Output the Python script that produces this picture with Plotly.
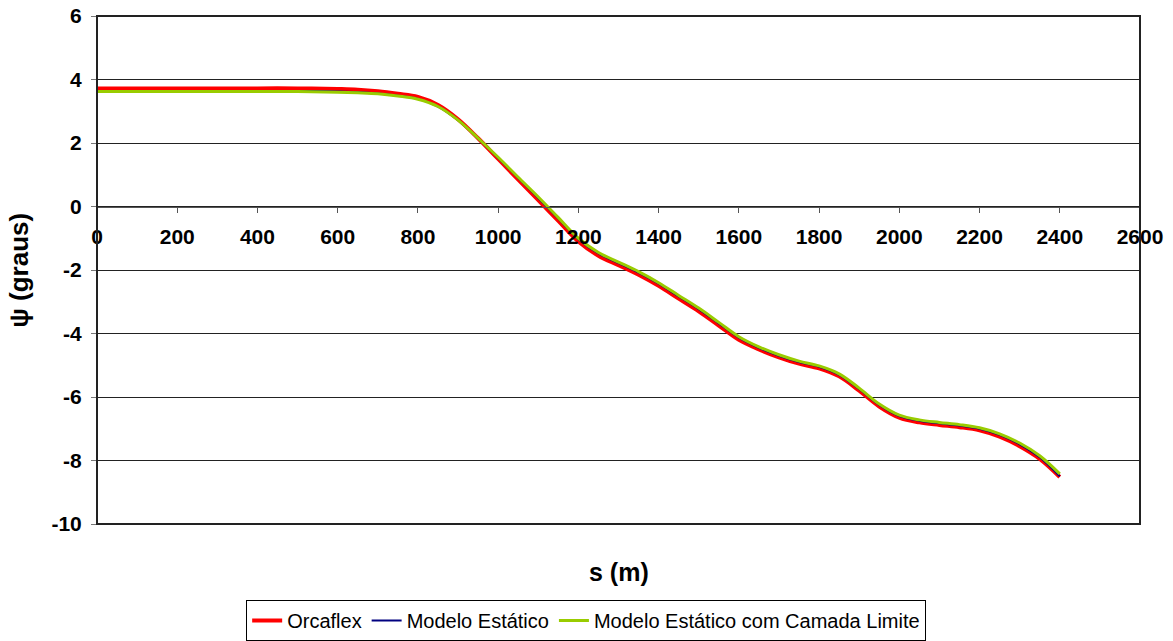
import plotly.graph_objects as go

s = [0, 100, 200, 300, 400, 500, 600, 650, 700, 750, 800, 850, 900, 950, 1000,
     1050, 1100, 1150, 1200, 1250, 1300, 1350, 1400, 1450, 1500, 1550, 1600,
     1650, 1700, 1750, 1800, 1850, 1900, 1950, 2000, 2050, 2100, 2150, 2200,
     2250, 2300, 2350, 2400]

orcaflex = [3.72, 3.72, 3.72, 3.72, 3.72, 3.72, 3.70, 3.68, 3.63, 3.55, 3.45,
            3.20, 2.75, 2.15, 1.50, 0.85, 0.20, -0.45, -1.10, -1.55, -1.85,
            -2.15, -2.50, -2.90, -3.30, -3.75, -4.20, -4.50, -4.75, -4.95,
            -5.10, -5.35, -5.80, -6.30, -6.65, -6.80, -6.88, -6.95, -7.05,
            -7.25, -7.55, -7.95, -8.52]

modelo_estatico = [3.64, 3.64, 3.64, 3.64, 3.64, 3.64, 3.62, 3.60, 3.56, 3.49,
                   3.39, 3.15, 2.72, 2.14, 1.53, 0.90, 0.27, -0.38, -1.03,
                   -1.48, -1.78, -2.08, -2.43, -2.83, -3.23, -3.68, -4.13,
                   -4.45, -4.70, -4.90, -5.05, -5.30, -5.75, -6.25, -6.60,
                   -6.75, -6.83, -6.90, -7.00, -7.19, -7.49, -7.90, -8.50]

camada_limite = [3.62, 3.62, 3.62, 3.62, 3.62, 3.62, 3.60, 3.58, 3.55, 3.48,
                 3.38, 3.15, 2.72, 2.15, 1.55, 0.92, 0.30, -0.35, -1.00,
                 -1.45, -1.75, -2.05, -2.40, -2.80, -3.20, -3.65, -4.10,
                 -4.42, -4.67, -4.87, -5.02, -5.27, -5.72, -6.22, -6.57,
                 -6.72, -6.80, -6.87, -6.97, -7.16, -7.45, -7.85, -8.42]

x_ticks = list(range(0, 2601, 200))
y_ticks = list(range(-10, 7, 2))
y_ticktext = [str(v) for v in y_ticks]  # plain hyphen-minus as in the original

FONT = "Liberation Sans, Arial, sans-serif"

fig = go.Figure()
fig.add_trace(go.Scatter(x=s, y=orcaflex, mode="lines", name="Orcaflex",
                         line=dict(color="#FF0000", width=4, shape="spline")))
fig.add_trace(go.Scatter(x=s, y=modelo_estatico, mode="lines", name="Modelo Estático",
                         line=dict(color="#000080", width=2, shape="spline")))
fig.add_trace(go.Scatter(x=s, y=camada_limite, mode="lines",
                         name="Modelo Estático com Camada Limite",
                         line=dict(color="#99CC00", width=3, shape="spline")))

fig.update_layout(
    width=1173, height=641,
    margin=dict(l=97, r=33, t=16, b=117, autoexpand=False),
    paper_bgcolor="white", plot_bgcolor="white",
    font=dict(family=FONT, color="black"),
    showlegend=True,
    legend=dict(orientation="h", x=0.469, xanchor="center",
                yref="container", y=1 - 600 / 641, yanchor="top",
                bordercolor="black", borderwidth=1, font=dict(size=20, family=FONT),
                bgcolor="white", itemwidth=30, tracegroupgap=0),
    xaxis=dict(range=[0, 2600], tickvals=x_ticks, showgrid=False, zeroline=False,
               anchor="free", position=0.625, showline=True, linecolor="#555555",
               linewidth=1, ticks="outside", ticklen=5, tickcolor="#555555",
               automargin=False,
               tickfont=dict(size=21, family=FONT, weight="bold"), ticklabelstandoff=6),
    yaxis=dict(range=[-10, 6], tickvals=y_ticks, ticktext=y_ticktext, showgrid=True,
               gridcolor="#222222", gridwidth=1, zeroline=False, showline=False,
               ticks="outside", ticklen=5, tickcolor="#777777", automargin=False,
               ticklabelstandoff=5,
               tickfont=dict(size=21, family=FONT, weight="bold")),
    shapes=[dict(type="rect", xref="paper", yref="paper", x0=0, x1=1, y0=0, y1=1,
                 line=dict(color="#222222", width=2), layer="above")],
    annotations=[
        dict(text="<b>s (m)</b>", xref="paper", yref="paper", x=0.5, y=-0.094,
             xanchor="center", yanchor="middle", showarrow=False,
             font=dict(size=25, family=FONT)),
        dict(text="<b>ψ (graus)</b>", xref="paper", yref="paper", x=-0.075, y=0.5,
             xanchor="center", yanchor="middle", textangle=-90, showarrow=False,
             font=dict(size=26, family=FONT)),
    ],
)

fig.write_html("out.html")
